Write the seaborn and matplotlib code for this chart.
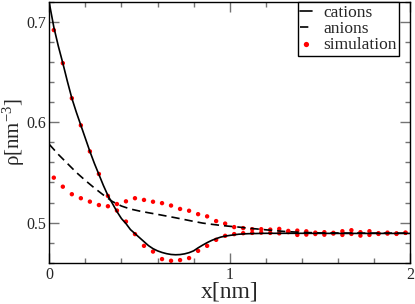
import numpy as np
import pandas as pd
import matplotlib
matplotlib.use("Agg")
import matplotlib.pyplot as plt
from matplotlib.ticker import MultipleLocator
import seaborn as sns

# theory curves
x_cat = [0.0, 0.025, 0.05, 0.075, 0.1, 0.125, 0.15, 0.175, 0.2, 0.225, 0.25, 0.275,
         0.3, 0.325, 0.35, 0.375, 0.4, 0.425, 0.45, 0.475, 0.5, 0.525, 0.55, 0.575,
         0.6, 0.625, 0.65, 0.675, 0.7, 0.725, 0.75, 0.775, 0.8, 0.825, 0.85, 0.875,
         0.9, 0.925, 0.95, 0.975, 1.0, 1.05, 1.1, 1.2, 1.4, 1.6, 1.8, 2.0]
rho_cat = [0.719, 0.695, 0.676, 0.659, 0.641, 0.624, 0.610, 0.597, 0.584, 0.571, 0.559, 0.548,
           0.537, 0.527, 0.519, 0.511, 0.504, 0.499, 0.493, 0.489, 0.485, 0.481, 0.477, 0.474,
           0.4718, 0.4702, 0.469, 0.4682, 0.4679, 0.4681, 0.4688, 0.4700, 0.4718, 0.4748, 0.4775, 0.4800,
           0.4822, 0.4840, 0.4855, 0.4865, 0.4872, 0.4884, 0.4889, 0.4893, 0.4893, 0.4892, 0.4892, 0.4892]

x_an = [0.0, 0.05, 0.1, 0.15, 0.2, 0.25, 0.3, 0.35, 0.4, 0.45, 0.5, 0.55, 0.6, 0.65,
        0.7, 0.75, 0.8, 0.85, 0.9, 0.95, 1.0, 1.05, 1.1, 1.2, 1.3, 1.4, 1.5, 1.7, 2.0]
rho_an = [0.578, 0.568, 0.559, 0.550, 0.542, 0.5345, 0.5275, 0.521, 0.5165, 0.5135, 0.5115, 0.5098,
          0.5082, 0.5065, 0.5048, 0.503, 0.5012, 0.4995, 0.4983, 0.4972, 0.4963, 0.4955, 0.4945,
          0.4928, 0.4912, 0.4902, 0.4897, 0.4895, 0.4895]

# simulation points
x_sim = [0.025, 0.075, 0.125, 0.175, 0.225, 0.275, 0.325, 0.375, 0.425, 0.475,
         0.525, 0.575, 0.625, 0.675, 0.725, 0.775, 0.825, 0.875, 0.925, 0.975,
         1.025, 1.075, 1.125, 1.175, 1.225, 1.275, 1.325, 1.375, 1.425, 1.475,
         1.525, 1.575, 1.625, 1.675, 1.725, 1.775, 1.825, 1.875, 1.925, 1.975]
sim_cat = [0.692, 0.659, 0.624, 0.597, 0.571, 0.5485, 0.5266, 0.512, 0.501, 0.4885,
           0.4768, 0.4711, 0.4636, 0.4619, 0.4626, 0.4646, 0.4718, 0.4768, 0.4828, 0.4868,
           0.4885, 0.4894, 0.4897, 0.4900, 0.4897, 0.4893, 0.4905, 0.4877, 0.4880, 0.4886,
           0.4879, 0.4890, 0.4877, 0.4887, 0.4870, 0.4877, 0.4887, 0.4890, 0.4887, 0.4897]
sim_an = [0.5448, 0.5358, 0.5283, 0.5243, 0.5209, 0.5175, 0.5163, 0.5185, 0.5212, 0.5243,
          0.5226, 0.5208, 0.5194, 0.517, 0.5136, 0.5118, 0.5084, 0.5062, 0.5015, 0.4990,
          0.4955, 0.4945, 0.4934, 0.4934, 0.4930, 0.4937, 0.4917, 0.4920, 0.4913, 0.4900,
          0.4904, 0.4898, 0.4914, 0.4924, 0.4904, 0.4914, 0.4894, 0.4900, 0.4893, 0.4900]

sns.set_style("ticks")
plt.rcParams['font.family'] = ['Liberation Serif', 'DejaVu Serif']
plt.rcParams['mathtext.fontset'] = 'stix'

fig = plt.figure(figsize=(4.15, 3.04), dpi=100)
ax = fig.add_axes([0.1188, 0.1359, 0.8692, 0.8575])

sns.lineplot(x=x_cat, y=rho_cat, ax=ax, color='black', lw=1.2, label='cations', sort=False)
sns.lineplot(x=x_an, y=rho_an, ax=ax, color='black', lw=1.2, label='anions', sort=False)
ax.lines[-1].set_dashes([5, 3])
sns.scatterplot(x=x_sim, y=sim_cat, ax=ax, color='red', s=10, edgecolor='none', label='simulation')
sns.scatterplot(x=x_sim, y=sim_an, ax=ax, color='red', s=10, edgecolor='none')

ax.set_xlim(0, 2)
ax.set_ylim(0.46, 0.72)
ax.xaxis.set_major_locator(MultipleLocator(1))
ax.xaxis.set_minor_locator(MultipleLocator(0.2))
ax.yaxis.set_major_locator(MultipleLocator(0.1))
ax.yaxis.set_minor_locator(MultipleLocator(0.02))
ax.tick_params(which='both', direction='in', top=True, right=True, color='0.45',
               labelsize=11.5)
ax.tick_params(axis='x', pad=3)
ax.tick_params(axis='y', pad=2)
ax.tick_params(which='major', length=7, width=1)
ax.tick_params(which='minor', length=3.5, width=1)
for sp in ax.spines.values():
    sp.set_linewidth(1)
    sp.set_color('black')

ax.set_xlabel('x[nm]', fontsize=17, labelpad=-1)
ax.set_ylabel(r'ρ[nm$^{\mathregular{-3}}$]', fontsize=15)
ax.yaxis.set_label_coords(-0.061, 0.5)

leg = ax.legend(loc='upper right', bbox_to_anchor=(0.9695, 1.0), borderaxespad=0,
                fontsize=12.5, frameon=True, fancybox=False, framealpha=1,
                handlelength=0.7, handletextpad=0.6, labelspacing=0.0,
                borderpad=0.15, markerscale=1.2)
leg.get_frame().set_edgecolor('black')
leg.get_frame().set_linewidth(1)

fig.savefig('out.png', dpi=100)
